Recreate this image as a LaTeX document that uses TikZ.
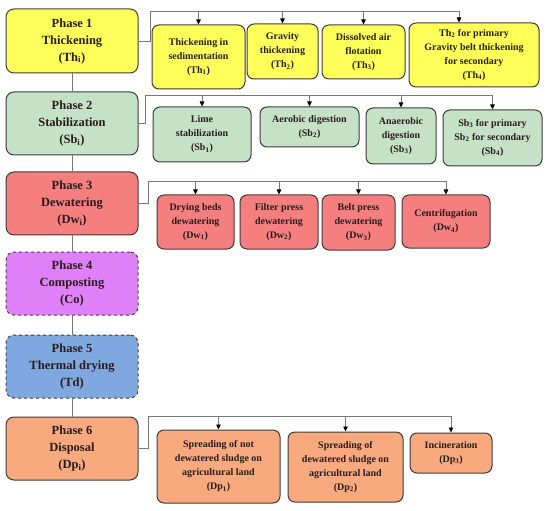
\documentclass[tikz,border=0pt]{standalone}
\usepackage{fontspec}
\setmainfont{Liberation Serif}
\usepackage{tikz}
\usetikzlibrary{arrows.meta}
\definecolor{thyellow}{RGB}{255,255,90}
\definecolor{sbgreen}{RGB}{198,226,198}
\definecolor{dwred}{RGB}{245,126,126}
\definecolor{copurple}{RGB}{224,128,248}
\definecolor{tdblue}{RGB}{128,168,224}
\definecolor{dporange}{RGB}{248,170,126}
\definecolor{boxline}{RGB}{64,58,58}
\definecolor{linkgray}{RGB}{120,120,120}
\definecolor{inktext}{RGB}{40,28,28}

\begin{document}
\begin{tikzpicture}[x=1pt, y=-1pt]
    \tikzstyle{phase} = [rectangle, rounded corners=8pt, minimum width=132pt, minimum height=63pt, draw=boxline, line width=1pt, align=center, inner sep=0pt, font=\fontsize{12.5}{17}\selectfont\bfseries, text=inktext]
    \tikzstyle{method} = [rectangle, rounded corners=7pt, draw=boxline, line width=1pt, align=center, inner sep=0pt, font=\fontsize{10}{14}\selectfont\bfseries, text=inktext]
    \tikzstyle{optional} = [phase, dashed]
    \tikzstyle{link} = [draw=linkgray, line width=0.8pt]
    \tikzstyle{arrow} = [link, -{Triangle[length=5pt, width=4.5pt, color=black]}]

    \useasboundingbox (0,0) rectangle (550,511);

    % Treatment phases
    \node [phase, fill=thyellow, minimum height=64pt] (thick) at (72,41) {Phase 1\\Thickening\\(Th\textsubscript{i})};
    \node [phase, fill=sbgreen] (stab) at (72,123.5) {Phase 2\\Stabilization\\(Sb\textsubscript{i})};
    \node [phase, fill=dwred] (dewat) at (72,203.5) {Phase 3\\Dewatering\\(Dw\textsubscript{i})};
    \node [optional, fill=copurple] (compost) at (72,283.5) {Phase 4\\Composting\\(Co)};
    \node [optional, fill=tdblue] (tdry) at (72,366.5) {Phase 5\\Thermal drying\\(Td)};
    \node [phase, fill=dporange] (disp) at (72,448.5) {Phase 6\\Disposal\\(Dp\textsubscript{i})};

    \draw [link] (thick) -- (stab);
    \draw [link] (stab) -- (dewat);
    \draw [link] (dewat) -- (compost);
    \draw [link] (compost) -- (tdry);
    \draw [link] (tdry) -- (disp);

    % Thickening methods
    \node [method, fill=thyellow, minimum width=93pt, minimum height=64pt] (th1) at (198.5,57) {Thickening in\\sedimentation\\(Th\textsubscript{1})};
    \node [method, fill=thyellow, minimum width=71pt, minimum height=55pt] (th2) at (282.5,51.5) {Gravity\\thickening\\(Th\textsubscript{2})};
    \node [method, fill=thyellow, minimum width=83pt, minimum height=54pt] (th3) at (363.5,52) {Dissolved air\\flotation\\(Th\textsubscript{3})};
    \node [method, fill=thyellow, minimum width=130pt, minimum height=64pt] (th4) at (474,55) {Th\textsubscript{2} for primary\\Gravity belt thickening\\for secondary\\(Th\textsubscript{4})};

    % Stabilization methods
    \node [method, fill=sbgreen, minimum width=98pt, minimum height=55pt] (sb1) at (202,134.5) {Lime\\stabilization\\(Sb\textsubscript{1})};
    \node [method, fill=sbgreen, minimum width=99pt, minimum height=40pt] (sb2) at (309.5,127) {Aerobic digestion\\(Sb\textsubscript{2})};
    \node [method, fill=sbgreen, minimum width=70pt, minimum height=56pt] (sb3) at (401,136) {Anaerobic\\digestion\\(Sb\textsubscript{3})};
    \node [method, fill=sbgreen, minimum width=99pt, minimum height=56pt] (sb4) at (492.5,138) {Sb\textsubscript{3} for primary\\Sb\textsubscript{2} for secondary\\(Sb\textsubscript{4})};

    % Dewatering methods
    \node [method, fill=dwred, minimum width=77pt, minimum height=54pt] (dw1) at (195.5,222) {Drying beds\\dewatering\\(Dw\textsubscript{1})};
    \node [method, fill=dwred, minimum width=78pt, minimum height=54pt] (dw2) at (279,222) {Filter press\\dewatering\\(Dw\textsubscript{2})};
    \node [method, fill=dwred, minimum width=73pt, minimum height=55pt] (dw3) at (358.5,222.5) {Belt press\\dewatering\\(Dw\textsubscript{3})};
    \node [method, fill=dwred, minimum width=88pt, minimum height=53pt] (dw4) at (446,221.5) {Centrifugation\\(Dw\textsubscript{4})};

    % Disposal routes
    \node [method, fill=dporange, minimum width=123pt, minimum height=73pt] (dp1) at (218.5,466.5) {Spreading of not\\dewatered sludge on\\agricultural land\\(Dp\textsubscript{1})};
    \node [method, fill=dporange, minimum width=115pt, minimum height=70pt] (dp2) at (345.5,467) {Spreading of\\dewatered sludge on\\agricultural land\\(Dp\textsubscript{2})};
    \node [method, fill=dporange, minimum width=82pt, minimum height=40pt] (dp3) at (451,453) {Incineration\\(Dp\textsubscript{3})};

    % Branch lines
    \coordinate (thbar) at (150,11);
    \coordinate (thend) at (459,11);
    \draw [link] (thick.east) -| (thbar) -- (thend);
    \draw [arrow] (thbar -| th1.north) -- (th1.north);
    \draw [arrow] (thbar -| th2.north) -- (th2.north);
    \draw [arrow] (thbar -| th3.north) -- (th3.north);
    \draw [arrow] (thend) -- (thend |- th4.north);

    \coordinate (sbbar) at (145,95);
    \draw [link] (stab.east) -| (sbbar) -- (sbbar -| sb4.north);
    \draw [arrow] (sbbar -| sb1.north) -- (sb1.north);
    \draw [arrow] (sbbar -| sb2.north) -- (sb2.north);
    \draw [arrow] (sbbar -| sb3.north) -- (sb3.north);
    \draw [arrow] (sbbar -| sb4.north) -- (sb4.north);

    \coordinate (dwbar) at (148,181);
    \draw [link] (dewat.east) -| (dwbar) -- (dwbar -| dw4.north);
    \draw [arrow] (dwbar -| dw1.north) -- (dw1.north);
    \draw [arrow] (dwbar -| dw2.north) -- (dw2.north);
    \draw [arrow] (dwbar -| dw3.north) -- (dw3.north);
    \draw [arrow] (dwbar -| dw4.north) -- (dw4.north);

    \coordinate (dpbar) at (148,416);
    \draw [link] (disp.east) -| (dpbar) -- (dpbar -| dp3.north);
    \draw [arrow] (dpbar -| dp1.north) -- (dp1.north);
    \draw [arrow] (dpbar -| dp2.north) -- (dp2.north);
    \draw [arrow] (dpbar -| dp3.north) -- (dp3.north);
\end{tikzpicture}
\end{document}
